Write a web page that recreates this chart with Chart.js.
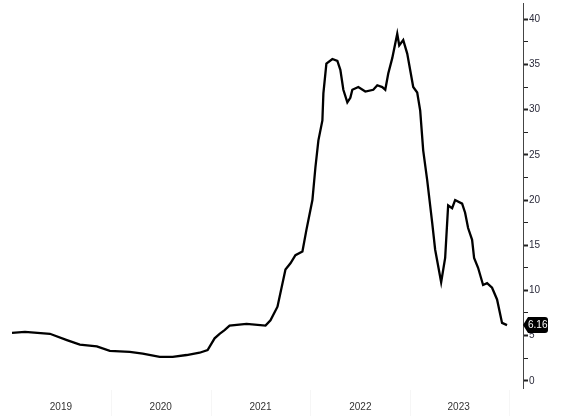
<!DOCTYPE html>
<html>
<head>
<meta charset="utf-8">
<script src="https://cdn.jsdelivr.net/npm/chart.js@4.4.0/dist/chart.umd.min.js"></script>
<style>
    html, body { margin: 0; padding: 0; background: #fff; }
    #wrap { width: 570px; height: 416px; }
</style>
</head>
<body>
<div id="wrap"><canvas id="myChart"></canvas></div>
<script>
// dates as decimal years
const dates = [
    2019.01, 2019.14, 2019.39, 2019.56, 2019.69, 2019.86, 2019.99, 2020.19, 2020.32, 2020.49,
    2020.62, 2020.76, 2020.89, 2020.97, 2021.04, 2021.09, 2021.14, 2021.19, 2021.36, 2021.55,
    2021.60, 2021.67, 2021.75, 2021.80, 2021.85, 2021.92, 2021.96, 2022.02, 2022.05, 2022.08,
    2022.12, 2022.13, 2022.16, 2022.22, 2022.27, 2022.30, 2022.33, 2022.37, 2022.40, 2022.42,
    2022.48, 2022.55, 2022.63, 2022.67, 2022.72, 2022.75, 2022.78, 2022.82, 2022.87, 2022.89,
    2022.93, 2022.97, 2023.03, 2023.07, 2023.10, 2023.13, 2023.17, 2023.22, 2023.25, 2023.31,
    2023.35, 2023.38, 2023.42, 2023.45, 2023.52, 2023.55, 2023.58, 2023.62, 2023.64, 2023.68,
    2023.73, 2023.77, 2023.82, 2023.87, 2023.92, 2023.97
];
const values = [
    5.3, 5.4, 5.2, 4.5, 4.0, 3.8, 3.3, 3.2, 3.0, 2.65,
    2.65, 2.85, 3.1, 3.4, 4.7, 5.2, 5.6, 6.1, 6.3, 6.1,
    6.7, 8.2, 12.3, 13.0, 13.9, 14.3, 16.7, 20.0, 23.6, 26.6,
    28.8, 31.8, 35.1, 35.6, 35.4, 34.4, 32.2, 30.8, 31.3, 32.2,
    32.5, 32.0, 32.2, 32.7, 32.5, 32.2, 34.0, 35.7, 38.4, 37.1,
    37.7, 36.2, 32.5, 31.9, 29.9, 25.5, 22.2, 17.5, 14.5, 10.9,
    13.6, 19.4, 19.1, 20.0, 19.6, 18.6, 16.9, 15.6, 13.6, 12.5,
    10.6, 10.8, 10.3, 9.0, 6.4, 6.16
];
const yearLabels = ['2019', '2020', '2021', '2022', '2023'];
const yTicks = [0, 2.5, 5, 7.5, 10, 12.5, 15, 17.5, 20, 22.5, 25, 27.5, 30, 32.5, 35, 37.5, 40];
const lastLabel = '6.16';

const points = dates.map((d, i) => ({ x: d, y: values[i] }));
const lastDate = dates[dates.length - 1];

// year label sits in the middle of the visible part of each year
const yearTicks = yearLabels.map(y => {
    const a = Math.max(+y, dates[0] - 0.01);
    const b = Math.min(+y + 1, lastDate);
    return { value: (a + b) / 2, label: y };
});

const lastTag = {
    id: 'lastTag',
    afterDraw(chart) {
        const ctx = chart.ctx;
        const ys = chart.scales.y;
        const yp = ys.getPixelForValue(values[values.length - 1]);
        const x0 = ys.left;
        const h = 8;
        ctx.save();
        ctx.fillStyle = '#000';
        ctx.beginPath();
        ctx.moveTo(x0, yp);
        ctx.lineTo(x0 + 5, yp - h);
        ctx.lineTo(x0 + 22, yp - h);
        ctx.quadraticCurveTo(x0 + 25, yp - h, x0 + 25, yp - h + 3);
        ctx.lineTo(x0 + 25, yp + h - 3);
        ctx.quadraticCurveTo(x0 + 25, yp + h, x0 + 22, yp + h);
        ctx.lineTo(x0 + 5, yp + h);
        ctx.closePath();
        ctx.fill();
        ctx.fillStyle = '#fff';
        ctx.font = '10px "Liberation Sans", Arial, sans-serif';
        ctx.textBaseline = 'middle';
        ctx.fillText(lastLabel, x0 + 5, yp + 0.5);

        // very faint separators under the axis at year starts
        const xs = chart.scales.x;
        ctx.strokeStyle = '#f6f6f6';
        ctx.lineWidth = 1;
        yearLabels.slice(1).concat([String(lastDate + 0.02)]).forEach(y => {
            const px = Math.round(xs.getPixelForValue(+y)) + 0.5;
            ctx.beginPath();
            ctx.moveTo(px, xs.top + 2);
            ctx.lineTo(px, chart.height);
            ctx.stroke();
        });
        ctx.restore();
    }
};

const config = {
    type: 'line',
    data: {
        datasets: [
            {
                data: points,
                borderColor: '#000',
                borderWidth: 2.3,
                pointRadius: 0,
                tension: 0,
                fill: false,
            }
        ]
    },
    options: {
        responsive: true,
        maintainAspectRatio: false,
        animation: false,
        layout: { padding: { left: 11, top: 3, right: 0, bottom: 0 } },
        plugins: {
            legend: { display: false },
            tooltip: { enabled: false },
        },
        scales: {
            x: {
                type: 'linear',
                min: 2019,
                max: 2024.13,
                border: { display: false },
                grid: { display: false, drawTicks: false },
                afterBuildTicks: s => { s.ticks = yearTicks.map(t => ({ value: t.value })); },
                afterFit: s => { s.height = 28; s.paddingLeft = 0; s.paddingRight = 0; },
                ticks: {
                    autoSkip: false,
                    maxRotation: 0,
                    padding: 13,
                    color: '#333',
                    font: { family: '"Liberation Sans", Arial, sans-serif', size: 10 },
                    callback: (v) => {
                        const t = yearTicks.find(k => Math.abs(k.value - v) < 1e-6);
                        return t ? t.label : '';
                    }
                }
            },
            y: {
                position: 'right',
                min: -0.8,
                max: 41.8,
                border: { display: true, color: '#444', width: 1 },
                grid: {
                    drawOnChartArea: false,
                    drawTicks: true,
                    tickLength: 5,
                    tickColor: '#222',
                    tickWidth: c => (c.tick && c.tick.value % 5 === 0 ? 2 : 1),
                },
                afterBuildTicks: s => { s.ticks = yTicks.map(v => ({ value: v })); },
                afterFit: s => { s.width = 47; s.paddingTop = 0; s.paddingBottom = 0; },
                ticks: {
                    autoSkip: false,
                    padding: 1,
                    color: '#2a2a3a',
                    font: { family: '"Liberation Sans", Arial, sans-serif', size: 10 },
                    callback: v => (v % 5 === 0 ? String(v) : '')
                }
            }
        }
    },
    plugins: [lastTag],
};

const chart = new Chart(document.getElementById('myChart'), config);
</script>
</body>
</html>
